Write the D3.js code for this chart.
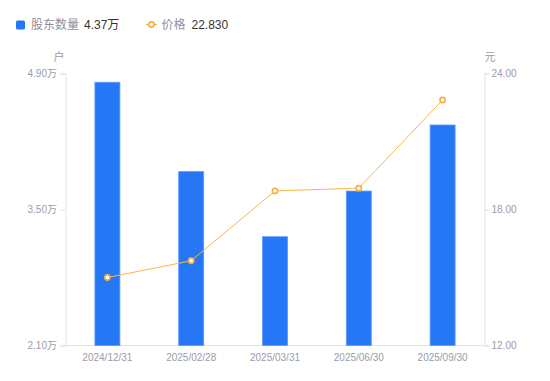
<!DOCTYPE html>
<html><head><meta charset="utf-8">
<script src="https://cdn.jsdelivr.net/npm/d3@7"></script>
<style>
html,body{margin:0;padding:0;background:#fff;}
svg{display:block;font-family:"Liberation Sans","Noto Sans CJK SC",sans-serif;}
</style></head>
<body><svg id="c" width="550" height="381"></svg>
<script>
const categories = ["2024/12/31","2025/02/28","2025/03/31","2025/06/30","2025/09/30"];
const holders = [4.81, 3.89, 3.22, 3.69, 4.37];   // 万户
const prices = [15.00, 15.74, 18.82, 18.94, 22.83];
const leftTicks = [2.10, 3.50, 4.90];
const rightTicks = [12, 18, 24];

const svg = d3.select("#c");
const L = 65.5, R = 484.5, T = 73.5, B = 345.5;
const x = d3.scaleBand().domain(categories).range([L, R]);
const yL = d3.scaleLinear().domain([2.1, 4.9]).range([B, T]);
const yR = d3.scaleLinear().domain([12, 24]).range([B, T]);
const axisCol = "#e3e3e8", textCol = "#9b9cab";

// axes
const gl = svg.append("g").attr("transform", `translate(${L},0)`)
  .call(d3.axisLeft(yL).tickValues(leftTicks).tickSize(5).tickPadding(3.5).tickFormat(d => d.toFixed(2) + "万"));
const gr = svg.append("g").attr("transform", `translate(${R},0)`)
  .call(d3.axisRight(yR).tickValues(rightTicks).tickSize(5).tickPadding(2).tickFormat(d => d.toFixed(2)));
const gx = svg.append("g").attr("transform", `translate(0,${B})`)
  .call(d3.axisBottom(x).tickSize(0).tickPadding(8));
[gl, gr, gx].forEach(g => {
  g.selectAll("path.domain").attr("stroke", axisCol);
  g.selectAll("line").attr("stroke", axisCol);
  g.selectAll("text").attr("fill", textCol).attr("font-size", 10)
    .attr("font-family", '"Liberation Sans","Noto Sans CJK SC",sans-serif');
});
gx.select("path.domain").attr("d", `M${L},0H${R}`);

svg.append("text").attr("x", 59).attr("y", 61).attr("text-anchor", "middle")
  .attr("fill", textCol).attr("font-size", 11).text("户");
svg.append("text").attr("x", 490).attr("y", 61).attr("text-anchor", "middle")
  .attr("fill", textCol).attr("font-size", 11).text("元");

// bars
const bw = 25;
svg.append("g").selectAll("rect").data(holders).join("rect")
  .attr("x", (d, i) => x(categories[i]) + x.bandwidth() / 2 - bw / 2)
  .attr("y", d => yL(d))
  .attr("width", bw)
  .attr("height", d => B - yL(d))
  .attr("fill", "#2577f5")
  .attr("stroke", "#5d9bf8").attr("stroke-width", 0.8);

// line
const line = d3.line().x((d, i) => x(categories[i]) + x.bandwidth() / 2).y(d => yR(d));
svg.append("path").datum(prices).attr("d", line)
  .attr("fill", "none").attr("stroke", "#f7b84a").attr("stroke-width", 1);
svg.append("g").selectAll("circle").data(prices).join("circle")
  .attr("cx", (d, i) => x(categories[i]) + x.bandwidth() / 2)
  .attr("cy", d => yR(d)).attr("r", 2.6)
  .attr("fill", "#fff").attr("stroke", "#f7b03a").attr("stroke-width", 1.6);

// legend
const lg = svg.append("g");
lg.append("rect").attr("x", 16).attr("y", 20.5).attr("width", 9).attr("height", 9).attr("rx", 1.5).attr("fill", "#2577f5");
lg.append("text").attr("x", 31).attr("y", 29).attr("font-size", 12).attr("fill", "#8e8f9c").text("股东数量");
lg.append("text").attr("x", 84).attr("y", 29).attr("font-size", 12).attr("fill", "#333").text(d3.format(".2f")(holders[4]) + "万");
lg.append("line").attr("x1", 146).attr("x2", 157).attr("y1", 24.5).attr("y2", 24.5).attr("stroke", "#f7b84a").attr("stroke-width", 1.5);
lg.append("circle").attr("cx", 151.5).attr("cy", 24.5).attr("r", 2.6).attr("fill", "#fff").attr("stroke", "#f7b03a").attr("stroke-width", 1.6);
lg.append("text").attr("x", 161.5).attr("y", 29).attr("font-size", 12).attr("fill", "#8e8f9c").text("价格");
lg.append("text").attr("x", 191.5).attr("y", 29).attr("font-size", 12).attr("fill", "#333").text(d3.format(".3f")(prices[4]));
</script></body></html>
